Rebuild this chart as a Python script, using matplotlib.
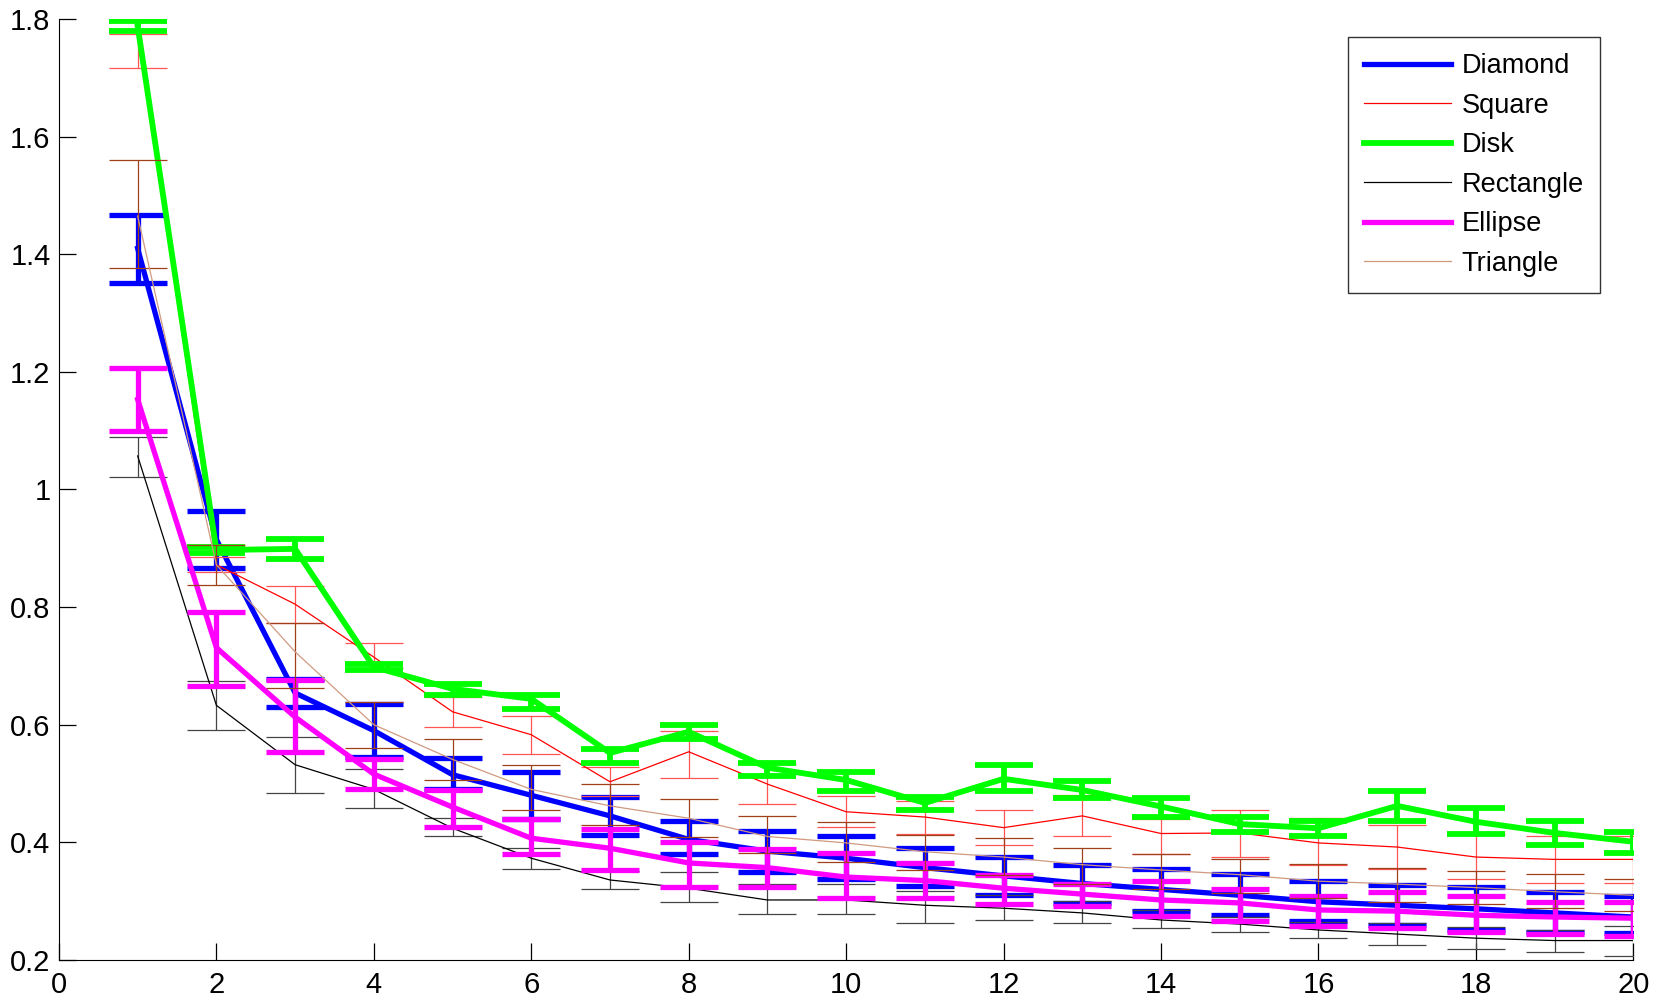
import matplotlib
matplotlib.use("Agg")
import matplotlib.pyplot as plt
import numpy as np

plt.rcParams['font.family'] = ['Liberation Sans', 'DejaVu Sans']

x = list(range(1, 21))

diamond = [1.41, 0.915, 0.654, 0.59, 0.515, 0.48, 0.445, 0.405, 0.385, 0.373,
           0.357, 0.343, 0.33, 0.32, 0.31, 0.299, 0.293, 0.287, 0.28, 0.273]
diamond_hi = [1.467, 0.964, 0.678, 0.635, 0.543, 0.52, 0.477, 0.436, 0.42, 0.41,
              0.39, 0.375, 0.362, 0.355, 0.346, 0.334, 0.328, 0.324, 0.316, 0.309]
diamond_lo = [1.351, 0.867, 0.630, 0.545, 0.49, 0.44, 0.413, 0.38, 0.35, 0.337,
              0.325, 0.31, 0.297, 0.283, 0.277, 0.266, 0.26, 0.251, 0.247, 0.245]

square = [1.775, 0.872, 0.805, 0.715, 0.622, 0.583, 0.503, 0.554, 0.499, 0.452,
          0.443, 0.425, 0.445, 0.415, 0.416, 0.399, 0.392, 0.375, 0.371, 0.371]
square_hi = [1.775, 0.885, 0.836, 0.739, 0.647, 0.615, 0.528, 0.59, 0.533, 0.479,
             0.47, 0.455, 0.48, 0.44, 0.455, 0.441, 0.43, 0.415, 0.41, 0.411]
square_lo = [1.717, 0.86, 0.773, 0.697, 0.596, 0.55, 0.478, 0.51, 0.465, 0.426,
             0.415, 0.395, 0.41, 0.38, 0.375, 0.362, 0.355, 0.338, 0.331, 0.331]

disk = [1.788, 0.897, 0.899, 0.698, 0.661, 0.644, 0.552, 0.588, 0.527, 0.506,
        0.467, 0.508, 0.489, 0.461, 0.431, 0.424, 0.462, 0.435, 0.416, 0.401]
disk_hi = [1.797, 0.902, 0.916, 0.703, 0.669, 0.651, 0.559, 0.6, 0.535, 0.52,
           0.477, 0.532, 0.505, 0.476, 0.443, 0.436, 0.488, 0.458, 0.436, 0.418]
disk_lo = [1.779, 0.892, 0.882, 0.693, 0.651, 0.627, 0.535, 0.576, 0.513, 0.488,
           0.455, 0.488, 0.476, 0.443, 0.418, 0.411, 0.436, 0.414, 0.396, 0.382]

rectangle = [1.057, 0.633, 0.532, 0.49, 0.424, 0.373, 0.336, 0.322, 0.302, 0.302,
             0.293, 0.288, 0.28, 0.268, 0.261, 0.251, 0.244, 0.237, 0.233, 0.233]
rectangle_hi = [1.09, 0.675, 0.579, 0.525, 0.441, 0.39, 0.352, 0.35, 0.33, 0.33,
                0.318, 0.31, 0.3, 0.285, 0.273, 0.265, 0.262, 0.256, 0.251, 0.258]
rectangle_lo = [1.022, 0.591, 0.484, 0.458, 0.411, 0.355, 0.321, 0.299, 0.278, 0.278,
                0.263, 0.268, 0.262, 0.255, 0.248, 0.237, 0.226, 0.219, 0.214, 0.207]

ellipse = [1.153, 0.731, 0.613, 0.516, 0.46, 0.407, 0.39, 0.365, 0.357, 0.341,
           0.335, 0.322, 0.312, 0.302, 0.297, 0.285, 0.283, 0.276, 0.273, 0.271]
ellipse_hi = [1.206, 0.792, 0.676, 0.542, 0.489, 0.44, 0.423, 0.401, 0.389, 0.382,
              0.365, 0.345, 0.33, 0.335, 0.321, 0.309, 0.316, 0.309, 0.298, 0.298]
ellipse_lo = [1.1, 0.666, 0.554, 0.491, 0.426, 0.38, 0.353, 0.324, 0.324, 0.306,
              0.306, 0.295, 0.292, 0.275, 0.266, 0.258, 0.254, 0.248, 0.244, 0.240]

triangle = [1.465, 0.872, 0.724, 0.6, 0.541, 0.49, 0.462, 0.441, 0.41, 0.399,
            0.384, 0.375, 0.362, 0.353, 0.345, 0.334, 0.329, 0.323, 0.316, 0.31]
triangle_hi = [1.56, 0.906, 0.773, 0.639, 0.576, 0.532, 0.499, 0.474, 0.445, 0.434,
               0.413, 0.407, 0.39, 0.38, 0.372, 0.363, 0.356, 0.352, 0.346, 0.338]
triangle_lo = [1.376, 0.838, 0.663, 0.56, 0.506, 0.455, 0.43, 0.409, 0.382, 0.367,
               0.353, 0.345, 0.33, 0.32, 0.314, 0.305, 0.299, 0.295, 0.288, 0.283]

labels = ["Diamond", "Square", "Disk", "Rectangle", "Ellipse", "Triangle"]
x_ticks = [0, 2, 4, 6, 8, 10, 12, 14, 16, 18, 20]
y_ticks = [0.2, 0.4, 0.6, 0.8, 1.0, 1.2, 1.4, 1.6, 1.8]
y_tick_labels = ["0.2", "0.4", "0.6", "0.8", "1", "1.2", "1.4", "1.6", "1.8"]

series = [
    (diamond, diamond_lo, diamond_hi, "#0000FF", "#0000FF", 3.8),
    (square, square_lo, square_hi, "#FF0000", "#FF5555", 0.9),
    (disk, disk_lo, disk_hi, "#00FF00", "#00FF00", 4.2),
    (rectangle, rectangle_lo, rectangle_hi, "#000000", "#444444", 0.9),
    (ellipse, ellipse_lo, ellipse_hi, "#FF00FF", "#FF00FF", 3.8),
    (triangle, triangle_lo, triangle_hi, "#D09A80", "#A0401A", 0.9),
]

fig = plt.figure(figsize=(16.65, 10.01), dpi=100)
ax = fig.add_axes([0.0354, 0.041, 0.9456, 0.94])

handles = []
for (vals, lo, hi, col, ecol, lw), lab in zip(series, labels):
    v = np.array(vals)
    yerr = np.vstack([v - np.array(lo), np.array(hi) - v])
    ax.errorbar(x, v, yerr=yerr, fmt='none', ecolor=ecol, elinewidth=lw,
                capsize=21, capthick=lw)
    h, = ax.plot(x, v, color=col, lw=lw, label=lab)
    handles.append(h)

ax.set_xlim(0, 20)
ax.set_ylim(0.2, 1.8)
ax.set_xticks(x_ticks)
ax.set_yticks(y_ticks)
ax.set_yticklabels(y_tick_labels)
ax.spines['top'].set_visible(False)
ax.spines['right'].set_visible(False)
ax.tick_params(direction='in', length=12, width=0.9, labelsize=21)
ax.tick_params(axis='x', pad=8)
ax.tick_params(axis='y', pad=6)

leg = ax.legend(handles=handles, loc='upper right',
                bbox_to_anchor=(1600 / 1665, 1 - 37 / 1001),
                bbox_transform=fig.transFigure, fontsize=19.5, frameon=True,
                fancybox=False, handlelength=3.2, handletextpad=0.4,
                labelspacing=0.5, borderpad=0.6, borderaxespad=0)
leg.get_frame().set_edgecolor('black')
leg.get_frame().set_linewidth(1.0)

fig.savefig("out.png", dpi=100)
